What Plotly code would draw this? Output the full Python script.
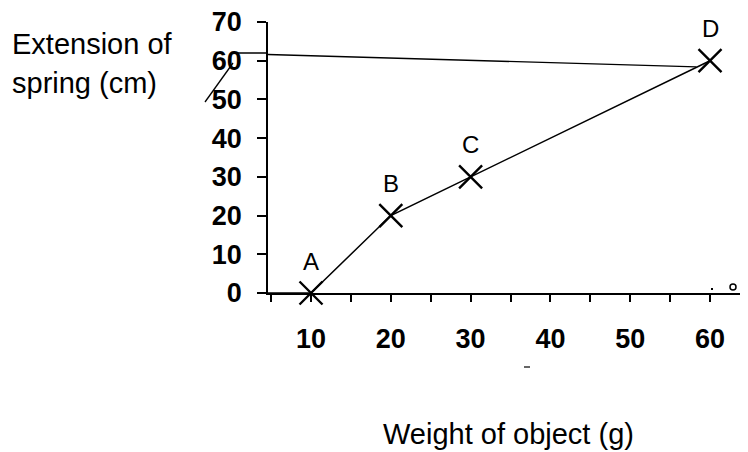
import plotly.graph_objects as go

# Data
weight = [10, 20, 30, 60]
extension = [0, 20, 30, 60]
point_labels = ["A", "B", "C", "D"]
guide_x = [4.61, 58.3]
guide_y = [61.6, 58.4]
base_x = [4.61, 10]
base_y = [0, 0]
x_tick_vals = [10, 20, 30, 40, 50, 60]
y_tick_vals = [0, 10, 20, 30, 40, 50, 60, 70]

W, H = 748, 452
OFF = 8  # page body margin
L, R, T, B = 260, 0, 14, 167
PW, PH = W - L - R, H - T - B


def px(x):  # page pixel -> paper
    return (x - OFF - L) / PW


def py(y):
    return (H - B - (y - OFF)) / PH


fig = go.Figure()

fig.add_trace(go.Scatter(x=guide_x, y=guide_y, mode="lines",
                         line=dict(color="black", width=1.3),
                         hoverinfo="skip", showlegend=False))
fig.add_trace(go.Scatter(x=base_x, y=base_y, mode="lines",
                         line=dict(color="black", width=1.5),
                         hoverinfo="skip", showlegend=False))
fig.add_trace(go.Scatter(
    x=weight, y=extension, mode="lines+markers",
    line=dict(color="black", width=1.5),
    marker=dict(symbol="x-thin-open", size=23, color="black",
                line=dict(color="black", width=2.4)),
    cliponaxis=False, showlegend=False))

for xv, yv, lab in zip(weight, extension, point_labels):
    fig.add_annotation(x=xv, y=yv, text=lab, showarrow=False,
                       yshift=32, font=dict(family="Liberation Sans", size=24, color="black"))

font_ticks = dict(family="Liberation Sans", size=27, color="black", weight="bold")

fig.update_xaxes(range=[4.61, 4.61 + PW / 7.98], showline=True, linecolor="black", linewidth=1.5,
                 tickmode="array", tickvals=x_tick_vals, ticktext=[str(v) for v in x_tick_vals],
                 ticks="outside", ticklen=7, tickwidth=1.5, tickcolor="black",
                 minor=dict(dtick=5, tick0=0, ticks="outside", ticklen=7, tickwidth=1.5, tickcolor="black"),
                 tickfont=font_ticks, ticklabelstandoff=14, ticklabeloverflow="allow",
                 showgrid=False, zeroline=False, fixedrange=True)
fig.update_yaxes(range=[0, 70], showline=True, linecolor="black", linewidth=1.5,
                 tickmode="array", tickvals=y_tick_vals, ticktext=[str(v) for v in y_tick_vals],
                 ticks="outside", ticklen=9, tickwidth=1.5, tickcolor="black",
                 tickfont=font_ticks, ticklabelstandoff=10, ticklabeloverflow="allow",
                 showgrid=False, zeroline=False, fixedrange=True)

title_font = dict(family="Liberation Sans", size=29, color="black")
# Axis titles
fig.add_annotation(xref="paper", yref="paper", x=px(10), y=py(44), text="Extension of",
                   showarrow=False, xanchor="left", yanchor="middle", font=title_font)
fig.add_annotation(xref="paper", yref="paper", x=px(10), y=py(83), text="spring (cm)",
                   showarrow=False, xanchor="left", yanchor="middle", font=title_font)
fig.add_annotation(xref="paper", yref="paper", x=px(381), y=py(434), text="Weight of object (g)",
                   showarrow=False, xanchor="left", yanchor="middle", font=title_font)

# Hand-drawn strokes and specks outside the plot area
strokes = [
    ((233, 53), (268, 53), 1.3),
    ((233, 63), (205, 102), 1.3),
    ((259, 293), (268, 293), 1.5),
    ((524, 367), (530, 367), 1.2),
    ((711, 289), (713, 289), 2.0),
]
for (x0, y0), (x1, y1), w in strokes:
    fig.add_shape(type="line", xref="paper", yref="paper", x0=px(x0), y0=py(y0),
                  x1=px(x1), y1=py(y1), line=dict(color="black", width=w))
fig.add_shape(type="circle", xref="paper", yref="paper", x0=px(730), y0=py(284),
              x1=px(736), y1=py(290), line=dict(color="black", width=1.5))

fig.update_layout(width=W, height=H, margin=dict(l=L, r=R, t=T, b=B),
                  paper_bgcolor="white", plot_bgcolor="white", showlegend=False)

fig.write_html("out.html")
